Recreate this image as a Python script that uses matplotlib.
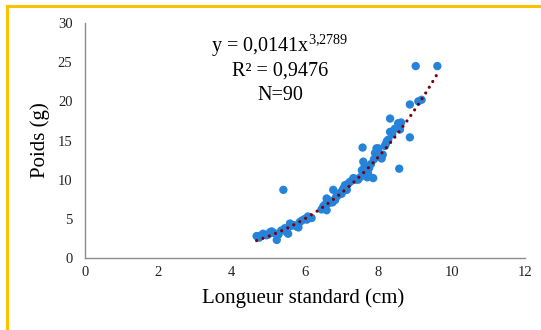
import matplotlib
matplotlib.use("Agg")
import matplotlib.pyplot as plt
import numpy as np
from matplotlib.lines import Line2D

# ---- data ----
longueur = [4.68, 4.75, 4.80, 4.86, 4.95, 5.00, 5.05, 5.09, 5.15, 5.23,
            5.28, 5.35, 5.41, 5.45, 5.50, 5.54, 5.59, 5.62, 5.70, 5.78,
            5.82, 5.86, 5.92, 6.00, 6.05, 6.08, 6.12, 6.18, 6.45, 6.50,
            6.54, 6.59, 6.59, 6.65, 6.70, 6.75, 6.77, 6.82, 6.85, 6.90,
            6.95, 7.00, 7.02, 7.05, 7.09, 7.14, 7.18, 7.22, 7.28, 7.32,
            7.35, 7.38, 7.45, 7.50, 7.57, 7.55, 7.59, 7.62, 7.65, 7.68,
            7.70, 7.72, 7.75, 7.80, 7.86, 7.88, 7.91, 7.95, 8.00, 8.04,
            8.09, 8.12, 8.18, 8.20, 8.23, 8.27, 8.32, 8.32, 8.38, 8.45,
            8.54, 8.57, 8.59, 8.62, 8.86, 8.86, 9.09, 9.18, 9.02, 9.61]
poids = [2.8, 2.6, 2.9, 3.1, 2.9, 3.0, 3.3, 3.4, 3.2, 2.3,
         3.0, 3.5, 8.7, 3.8, 3.3, 3.1, 4.4, 4.1, 4.2, 4.0,
         3.9, 4.6, 4.8, 5.0, 4.9, 5.3, 5.2, 5.1, 6.2, 6.6,
         6.8, 6.1, 7.6, 7.0, 7.3, 7.1, 8.7, 7.4, 7.8, 8.0,
         8.3, 8.2, 8.6, 8.9, 9.3, 8.7, 9.5, 9.7, 9.9, 10.2,
         10.1, 10.0, 10.0, 10.3, 14.1, 11.2, 12.3, 11.6, 10.6, 10.4,
         10.3, 10.8, 11.5, 12.0, 10.2, 12.6, 13.4, 14.0, 14.0, 12.9,
         12.7, 13.2, 14.3, 14.5, 14.9, 15.1, 17.8, 16.1, 15.8, 16.5,
         17.2, 11.4, 16.4, 17.3, 15.4, 19.6, 20.0, 20.2, 24.5, 24.5]

coef_a = 0.0141
coef_b = 3.2789
annot_lines = ["y = 0,0141x$^{3{,}2789}$", "R² = 0,9476", "N=90"]
x_ticks = [0, 2, 4, 6, 8, 10, 12]
y_ticks = [0, 5, 10, 15, 20, 25, 30]
x_label = "Longueur standard (cm)"
y_label = "Poids (g)"

W, H = 541, 330
fig = plt.figure(figsize=(W / 100, H / 100), dpi=100)
plt.rcParams['font.family'] = ['Liberation Serif', 'DejaVu Serif']
plt.rcParams['mathtext.fontset'] = 'custom'
plt.rcParams['mathtext.rm'] = 'Liberation Serif'

def fx(px):
    return px / W

def fy(py):
    return 1 - py / H

ax = fig.add_axes([fx(85), fy(258), fx(525) - fx(85), fy(23) - fy(258)])
ax.scatter(longueur, poids, s=36, color="#2583DA", edgecolors="none", zorder=3)

xs = np.linspace(min(longueur), max(longueur), 400)
ax.plot(xs, coef_a * xs ** coef_b, color="#7A0010", linestyle=(0, (0.01, 2.1)),
        linewidth=2.3, dash_capstyle="round", solid_capstyle="round", zorder=4)

ax.set_xlim(0, 12)
ax.set_ylim(0, 30)
ax.set_xticks(x_ticks)
ax.set_yticks(y_ticks)
ax.tick_params(length=0, labelsize=10.5, colors="#222222", pad=6)
ax.tick_params(axis='y', pad=9)
for s in ["top", "right"]:
    ax.spines[s].set_visible(False)
for s in ["left", "bottom"]:
    ax.spines[s].set_color("#8C8C8C")
    ax.spines[s].set_linewidth(1.0)

fig.text(fx(303), fy(298), x_label, ha="center", va="center", fontsize=15)
fig.text(fx(40), fy(140), y_label, ha="center", va="center", fontsize=15, rotation=90)

for i, t in enumerate(annot_lines):
    fig.text(fx(280), fy(46 + i * 25), t, ha="center", va="center", fontsize=14.5)

# outer border (top & left)
fig.add_artist(Line2D([fx(7), 1], [fy(6), fy(6)], color="#FFC000", linewidth=2.2))
fig.add_artist(Line2D([fx(7), fx(7)], [fy(6), 0], color="#FFC000", linewidth=2.2))

fig.savefig("out.png", dpi=100)
